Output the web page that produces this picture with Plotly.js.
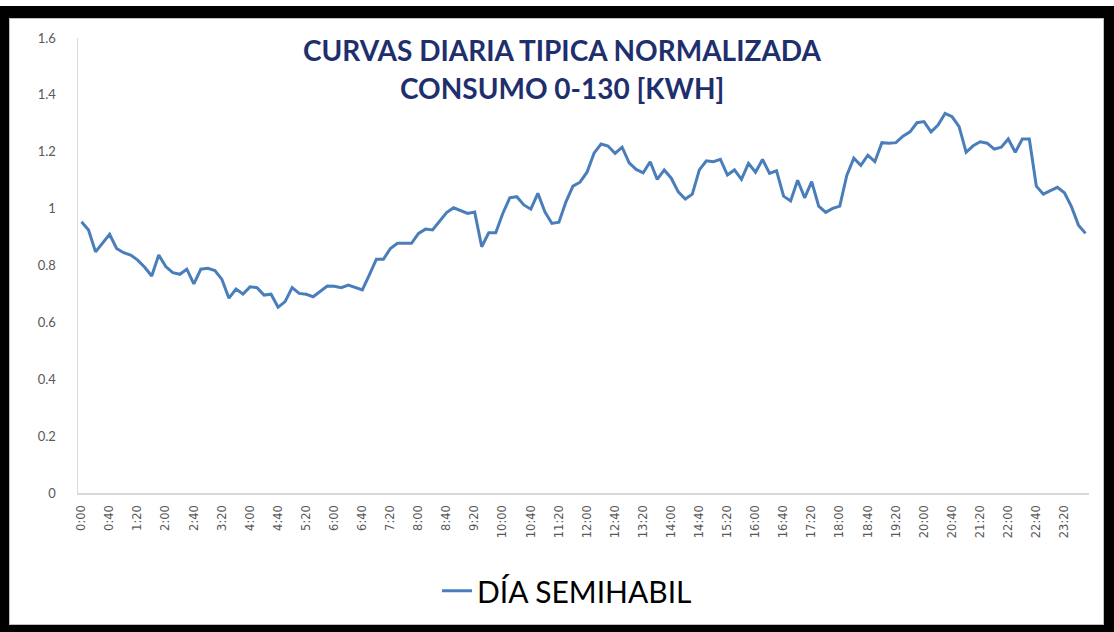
<!DOCTYPE html>
<html>
<head>
<meta charset="utf-8">
<script src="https://cdn.plot.ly/plotly-3.0.1.min.js"></script>
<style>
  html, body { margin:0; padding:0; background:#ffffff; }
  #frame { position:absolute; left:0; top:6px; width:1114px; height:626px; background:#000; }
  #inner { position:absolute; left:9px; top:18px; width:1093px; height:605px; background:#fff; border:1px solid #bfbfbf; }
  #chart { position:absolute; left:0; top:0; width:1114px; height:632px; }
</style>
</head>
<body>
<div id="frame"></div>
<div id="inner"></div>
<div id="chart"></div>
<script>
// categories: 10-minute intervals over one day
const times = [];
for (let h = 0; h < 24; h++) {
  for (let m = 0; m < 60; m += 10) {
    times.push(h + ":" + (m < 10 ? "0" + m : m));
  }
}

const titleLines = ["CURVAS DIARIA TIPICA NORMALIZADA", "CONSUMO 0-130 [KWH]"];
const seriesName = "DÍA SEMIHABIL";
const diaSemihabil = [
  0.954, 0.925, 0.848, 0.878, 0.910, 0.860, 0.845, 0.837, 0.819, 0.794, 0.763, 0.837,
  0.796, 0.775, 0.769, 0.787, 0.735, 0.787, 0.790, 0.782, 0.751, 0.685, 0.717, 0.700,
  0.725, 0.722, 0.696, 0.699, 0.653, 0.673, 0.722, 0.702, 0.699, 0.690, 0.709, 0.728,
  0.727, 0.722, 0.731, 0.723, 0.714, 0.767, 0.822, 0.822, 0.860, 0.878, 0.878, 0.878,
  0.913, 0.928, 0.925, 0.957, 0.986, 1.003, 0.992, 0.983, 0.988, 0.866, 0.915, 0.915,
  0.983, 1.038, 1.042, 1.013, 0.998, 1.054, 0.989, 0.948, 0.952, 1.024, 1.079, 1.093,
  1.128, 1.195, 1.227, 1.220, 1.194, 1.216, 1.161, 1.138, 1.126, 1.165, 1.103, 1.136,
  1.107, 1.059, 1.034, 1.051, 1.136, 1.168, 1.165, 1.173, 1.118, 1.136, 1.103, 1.159,
  1.128, 1.173, 1.124, 1.133, 1.044, 1.027, 1.100, 1.038, 1.095, 1.009, 0.987, 1.001,
  1.009, 1.117, 1.177, 1.152, 1.188, 1.165, 1.232, 1.230, 1.232, 1.255, 1.270, 1.302,
  1.306, 1.270, 1.294, 1.335, 1.323, 1.288, 1.198, 1.221, 1.235, 1.230, 1.209, 1.216,
  1.245, 1.198, 1.245, 1.245, 1.079, 1.051, 1.063, 1.075, 1.056, 1.007, 0.942, 0.913
];

const xTickLabels = times.filter((t, i) => i % 4 === 0);
const yTickVals = [0, 0.2, 0.4, 0.6, 0.8, 1, 1.2, 1.4, 1.6];
const yTickText = ["0", "0.2", "0.4", "0.6", "0.8", "1", "1.2", "1.4", "1.6"];

const trace = {
  x: times,
  y: diaSemihabil,
  type: "scatter",
  mode: "lines",
  name: seriesName,
  line: { color: "#4a7ebb", width: 3 },
  showlegend: true
};

const titleFont = { family: "Lato, 'Open Sans', sans-serif", size: 28, color: "#1f2f6e" };

const layout = {
  width: 1114,
  height: 632,
  paper_bgcolor: "rgba(0,0,0,0)",
  plot_bgcolor: "rgba(0,0,0,0)",
  margin: { l: 78, r: 25, t: 38, b: 139 },
  font: { family: "Lato, 'Open Sans', sans-serif", color: "#595959" },
  annotations: [
    { text: "<b>" + titleLines[0] + "</b>", xref: "paper", yref: "paper",
      x: 0.4797, y: 0.9736, xanchor: "center", yanchor: "middle", showarrow: false, font: titleFont },
    { text: "<b>" + titleLines[1] + "</b>", xref: "paper", yref: "paper",
      x: 0.4787, y: 0.8901, xanchor: "center", yanchor: "middle", showarrow: false, font: titleFont }
  ],
  xaxis: {
    type: "category",
    range: [-0.5, 143.5],
    tickmode: "array",
    tickvals: xTickLabels,
    ticktext: xTickLabels,
    tickangle: -90,
    tickfont: { family: "'DejaVu Sans', sans-serif", size: 11.5, color: "#595959" },
    showgrid: false,
    showline: true,
    linecolor: "#d9d9d9",
    linewidth: 1.5,
    ticks: "",
    zeroline: false,
    ticklabelstandoff: 6
  },
  yaxis: {
    range: [0, 1.6],
    tickmode: "array",
    tickvals: yTickVals,
    ticktext: yTickText,
    tickfont: { family: "Lato, 'Open Sans', sans-serif", size: 13, color: "#595959" },
    showgrid: false,
    showline: true,
    linecolor: "#d9d9d9",
    linewidth: 1.5,
    ticks: "",
    zeroline: false,
    ticklabelstandoff: 18
  },
  legend: {
    orientation: "h",
    x: 0.4837, xanchor: "center",
    y: -0.215, yanchor: "middle",
    font: { family: "Lato, 'Open Sans', sans-serif", size: 30, color: "#000000" },
    bgcolor: "rgba(0,0,0,0)",
    itemwidth: 30
  }
};

Plotly.newPlot("chart", [trace], layout, { displayModeBar: false, staticPlot: true });
</script>
</body>
</html>
